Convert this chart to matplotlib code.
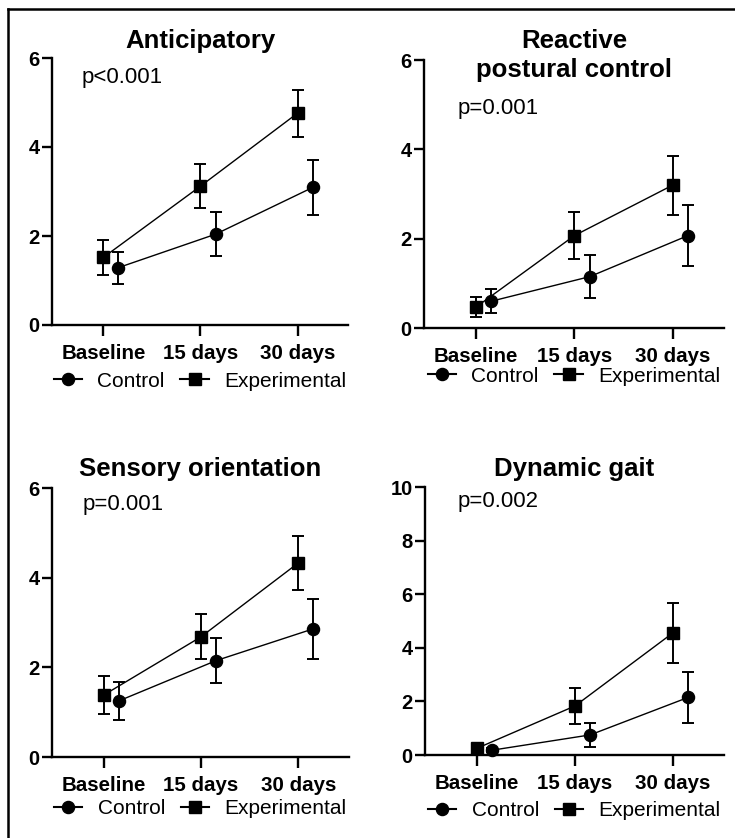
import matplotlib
matplotlib.use("Agg")
import matplotlib.pyplot as plt
from matplotlib.lines import Line2D

plt.rcParams['font.family'] = ['Liberation Sans', 'DejaVu Sans']

# ---------------- data ----------------
categories = ["Baseline", "15 days", "30 days"]
series_names = ["Control", "Experimental"]

titles = [["Anticipatory"], ["Reactive", "postural control"],
          ["Sensory orientation"], ["Dynamic gait"]]
p_labels = ["p<0.001", "p=0.001", "p=0.001", "p=0.002"]

control_mean = [[1.29, 2.04, 3.09],
                [0.60, 1.15, 2.07],
                [1.25, 2.15, 2.86],
                [0.18, 0.75, 2.15]]
control_err = [[0.36, 0.49, 0.62],
               [0.27, 0.48, 0.69],
               [0.42, 0.51, 0.67],
               [0.08, 0.44, 0.96]]
exp_mean = [[1.52, 3.12, 4.76],
            [0.47, 2.07, 3.20],
            [1.38, 2.68, 4.33],
            [0.25, 1.83, 4.56]]
exp_err = [[0.39, 0.50, 0.53],
           [0.22, 0.52, 0.66],
           [0.42, 0.50, 0.60],
           [0.08, 0.68, 1.12]]
y_max = [6, 6, 6, 10]
y_step = [2, 2, 2, 2]

# ---------------- layout (pixels) ----------------
W, H = 735, 838
axes_px = [(52, 325, 296, 267), (424, 328, 300, 268),
           (52, 757, 297, 269), (425, 755, 299, 268)]
title_y = [[1.0375], [1.045, 0.9366], [1.045], [1.041]]
p_pos = [(0.101, 0.906), (0.112, 0.798), (0.103, 0.918), (0.109, 0.924)]
legend_y = [-0.21, -0.18, -0.193, -0.208]
ctrl_offset = 0.155

fig = plt.figure(figsize=(W / 100, H / 100), dpi=100)
fig.patch.set_facecolor('white')

for i in range(4):
    l, b, w, h = axes_px[i]
    ax = fig.add_axes([l / W, 1 - b / H, w / W, h / H])
    x = list(range(len(categories)))
    xc = [v + ctrl_offset for v in x]

    ax.errorbar(x, exp_mean[i], yerr=exp_err[i], color='black', marker='s',
                markersize=8.7, lw=1.0, elinewidth=1.4, capsize=4, capthick=1.4,
                clip_on=False, zorder=3)
    ax.errorbar(xc, control_mean[i], yerr=control_err[i], color='black', marker='o',
                markersize=8.7, lw=1.0, elinewidth=1.4, capsize=4, capthick=1.4,
                clip_on=False, zorder=3)

    ax.set_xlim(-0.53, 2.52)
    ax.set_ylim(0, y_max[i])
    ax.set_yticks(range(0, y_max[i] + 1, y_step[i]))
    ax.set_xticks(x)
    ax.set_xticklabels(categories, fontweight='bold', fontsize=14.8)
    for t in ax.get_yticklabels():
        t.set_fontweight('bold')
        t.set_fontsize(14.5)

    for s in ['top', 'right']:
        ax.spines[s].set_visible(False)
    for s in ['left', 'bottom']:
        ax.spines[s].set_linewidth(1.7)
    ax.tick_params(axis='x', length=8, width=1.7, pad=6)
    ax.tick_params(axis='y', length=7, width=1.7, pad=2)

    for line, ty in zip(titles[i], title_y[i]):
        ax.text(0.5, ty, line, transform=ax.transAxes, ha='center', va='baseline',
                fontsize=18.5, fontweight='bold')
    ax.text(p_pos[i][0], p_pos[i][1], p_labels[i], transform=ax.transAxes,
            ha='left', va='baseline', fontsize=16)

    handles = [Line2D([], [], color='black', marker='o', markersize=8.7, lw=1.5),
               Line2D([], [], color='black', marker='s', markersize=8.7, lw=1.5)]
    ax.legend(handles, series_names, loc='center', bbox_to_anchor=(0.5, legend_y[i]),
              ncol=2, frameon=False, fontsize=15, handlelength=1.35,
              handletextpad=0.75, columnspacing=0.75, borderpad=0)

# border lines from the source crop (top and left edges)
fig.add_artist(Line2D([8 / W, 8 / W], [0, 1 - 9 / H], color='black', lw=1.8,
                      transform=fig.transFigure))
fig.add_artist(Line2D([8 / W, 1], [1 - 9 / H, 1 - 9 / H], color='black', lw=1.8,
                      transform=fig.transFigure))

fig.savefig("out.png", dpi=100, facecolor='white')
